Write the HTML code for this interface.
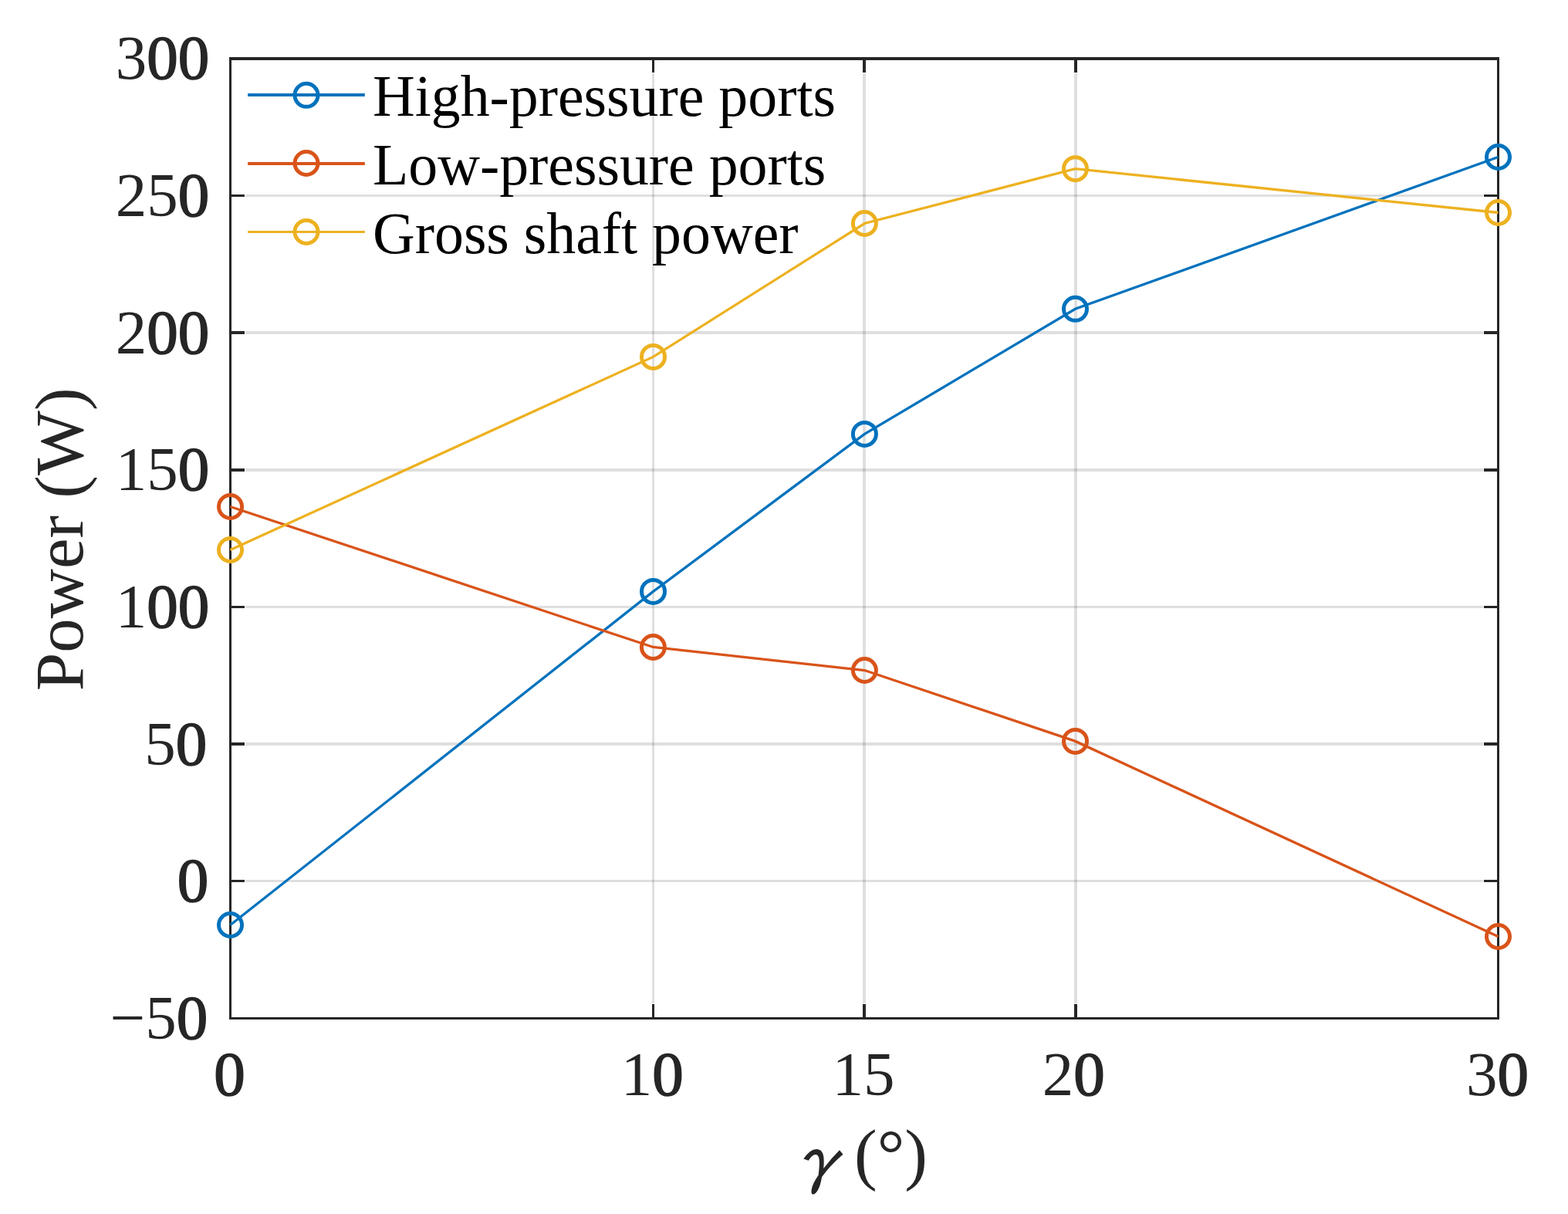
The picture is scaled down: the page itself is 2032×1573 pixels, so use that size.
<!DOCTYPE html><html><head><meta charset="utf-8"><style>html,body{margin:0;padding:0;background:#fff;overflow:hidden;}svg{display:block;}text{font-family:"Liberation Serif","Times New Roman",serif;}.z{stroke:#262626;stroke-width:1.6px;}</style></head><body>
<svg width="2032" height="1573" viewBox="0 0 2032 1573">
<rect width="2032" height="1573" fill="#fff"/>
<path d="M846.5 95V1300" stroke="#262626" stroke-opacity="0.15" stroke-width="3" fill="none" shape-rendering="crispEdges"/>
<path d="M1120.0 95V1300" stroke="#262626" stroke-opacity="0.15" stroke-width="4" fill="none" shape-rendering="crispEdges"/>
<path d="M1394.0 95V1300" stroke="#262626" stroke-opacity="0.15" stroke-width="4" fill="none" shape-rendering="crispEdges"/>
<path d="M318 1141.5H1922" stroke="#262626" stroke-opacity="0.15" stroke-width="3" fill="none" shape-rendering="crispEdges"/>
<path d="M318 964.0H1922" stroke="#262626" stroke-opacity="0.15" stroke-width="4" fill="none" shape-rendering="crispEdges"/>
<path d="M318 786.5H1922" stroke="#262626" stroke-opacity="0.15" stroke-width="3" fill="none" shape-rendering="crispEdges"/>
<path d="M318 609.0H1922" stroke="#262626" stroke-opacity="0.15" stroke-width="4" fill="none" shape-rendering="crispEdges"/>
<path d="M318 431.0H1922" stroke="#262626" stroke-opacity="0.15" stroke-width="4" fill="none" shape-rendering="crispEdges"/>
<path d="M318 253.5H1922" stroke="#262626" stroke-opacity="0.15" stroke-width="3" fill="none" shape-rendering="crispEdges"/>
<path d="M846.5 1321V1301M846.5 74V94" stroke="#262626" stroke-width="3" fill="none" shape-rendering="crispEdges"/>
<path d="M1120.0 1321V1301M1120.0 74V94" stroke="#262626" stroke-width="4" fill="none" shape-rendering="crispEdges"/>
<path d="M1394.0 1321V1301M1394.0 74V94" stroke="#262626" stroke-width="4" fill="none" shape-rendering="crispEdges"/>
<path d="M297 1141.5H317M1943 1141.5H1923" stroke="#262626" stroke-width="3" fill="none" shape-rendering="crispEdges"/>
<path d="M297 964.0H317M1943 964.0H1923" stroke="#262626" stroke-width="4" fill="none" shape-rendering="crispEdges"/>
<path d="M297 786.5H317M1943 786.5H1923" stroke="#262626" stroke-width="3" fill="none" shape-rendering="crispEdges"/>
<path d="M297 609.0H317M1943 609.0H1923" stroke="#262626" stroke-width="4" fill="none" shape-rendering="crispEdges"/>
<path d="M297 431.0H317M1943 431.0H1923" stroke="#262626" stroke-width="4" fill="none" shape-rendering="crispEdges"/>
<path d="M297 253.5H317M1943 253.5H1923" stroke="#262626" stroke-width="3" fill="none" shape-rendering="crispEdges"/>
<path d="M298.5 74V1321M1941.5 74V1321M297 1319.5H1943" stroke="#262626" stroke-width="3" fill="none" shape-rendering="crispEdges"/>
<path d="M297 76H1943" stroke="#262626" stroke-width="4" fill="none" shape-rendering="crispEdges"/>
<path d="M298.5 1198.5L846.5 766.4L1120.4 562.4L1393.5 400.3L1941.5 203.5" stroke="#0072BD" stroke-width="3.3" fill="none" stroke-linejoin="miter"/>
<path d="M298.5 656.5L846.4 838.5L1120.4 868.5L1393.5 960.4L1941.5 1213.5" stroke="#D95319" stroke-width="3.3" fill="none" stroke-linejoin="miter"/>
<path d="M298.5 712.5L846.5 462.4L1120.4 289.5L1393.5 218.7L1941.5 275.5" stroke="#EDB120" stroke-width="3.3" fill="none" stroke-linejoin="miter"/>
<circle cx="298.5" cy="1198.5" r="15" stroke="#0072BD" stroke-width="5" fill="none"/>
<circle cx="846.5" cy="766.4" r="15" stroke="#0072BD" stroke-width="5" fill="none"/>
<circle cx="1120.4" cy="562.4" r="15" stroke="#0072BD" stroke-width="5" fill="none"/>
<circle cx="1393.5" cy="400.3" r="15" stroke="#0072BD" stroke-width="5" fill="none"/>
<circle cx="1941.5" cy="203.5" r="15" stroke="#0072BD" stroke-width="5" fill="none"/>
<circle cx="298.5" cy="656.5" r="15" stroke="#D95319" stroke-width="5" fill="none"/>
<circle cx="846.4" cy="838.5" r="15" stroke="#D95319" stroke-width="5" fill="none"/>
<circle cx="1120.4" cy="868.5" r="15" stroke="#D95319" stroke-width="5" fill="none"/>
<circle cx="1393.5" cy="960.4" r="15" stroke="#D95319" stroke-width="5" fill="none"/>
<circle cx="1941.5" cy="1213.5" r="15" stroke="#D95319" stroke-width="5" fill="none"/>
<circle cx="298.5" cy="712.5" r="15" stroke="#EDB120" stroke-width="5" fill="none"/>
<circle cx="846.5" cy="462.4" r="15" stroke="#EDB120" stroke-width="5" fill="none"/>
<circle cx="1120.4" cy="289.5" r="15" stroke="#EDB120" stroke-width="5" fill="none"/>
<circle cx="1393.5" cy="218.7" r="15" stroke="#EDB120" stroke-width="5" fill="none"/>
<circle cx="1941.5" cy="275.5" r="15" stroke="#EDB120" stroke-width="5" fill="none"/>
<text x="269.2" y="1345.8" font-size="81" fill="#262626" text-anchor="end">−5<tspan class="z">0</tspan></text>
<text x="270.2" y="1168.1" font-size="81" fill="#262626" text-anchor="end"><tspan class="z">0</tspan></text>
<text x="268.2" y="990.5" font-size="81" fill="#262626" text-anchor="end">5<tspan class="z">0</tspan></text>
<text x="271.2" y="812.8" font-size="81" fill="#262626" text-anchor="end">1<tspan class="z">00</tspan></text>
<text x="271.2" y="635.2" font-size="81" fill="#262626" text-anchor="end">15<tspan class="z">0</tspan></text>
<text x="271.2" y="457.6" font-size="81" fill="#262626" text-anchor="end">2<tspan class="z">00</tspan></text>
<text x="271.2" y="279.9" font-size="81" fill="#262626" text-anchor="end">25<tspan class="z">0</tspan></text>
<text x="271.2" y="102.3" font-size="81" fill="#262626" text-anchor="end">3<tspan class="z">00</tspan></text>
<text x="297.5" y="1418.8" font-size="81" fill="#262626" text-anchor="middle"><tspan class="z">0</tspan></text>
<text x="845.2" y="1418.8" font-size="81" fill="#262626" text-anchor="middle">1<tspan class="z">0</tspan></text>
<text x="1119.0" y="1418.8" font-size="81" fill="#262626" text-anchor="middle">15</text>
<text x="1391.3" y="1418.8" font-size="81" fill="#262626" text-anchor="middle">2<tspan class="z">0</tspan></text>
<text x="1940.5" y="1418.8" font-size="81" fill="#262626" text-anchor="middle">3<tspan class="z">0</tspan></text>
<text transform="translate(1019 1538.5) skewX(-8) scale(0.92 1)" font-size="92" fill="#262626" style="font-family:IPAGothic,sans-serif">γ</text>
<text x="1107" y="1525" font-size="89" fill="#262626">(°)</text>
<text transform="translate(107.2 698.85) rotate(-90)" font-size="89" fill="#262626" text-anchor="middle">Power (W)</text>
<path d="M321.1 123.0H472.8" stroke="#0072BD" stroke-width="4"/>
<circle cx="397" cy="123.3" r="15" stroke="#0072BD" stroke-width="5" fill="none"/>
<text x="483" y="149.8" font-size="75.8" fill="#000">High-pressure ports</text>
<path d="M321.1 211.9H472.8" stroke="#D95319" stroke-width="4"/>
<circle cx="397" cy="211.5" r="15" stroke="#D95319" stroke-width="5" fill="none"/>
<text x="483" y="238.9" font-size="75.8" fill="#000">Low-pressure ports</text>
<path d="M321.1 300.5H472.8" stroke="#EDB120" stroke-width="3"/>
<circle cx="397" cy="300.4" r="15" stroke="#EDB120" stroke-width="5" fill="none"/>
<text x="483" y="328.2" font-size="75.8" fill="#000">Gross shaft power</text>
</svg></body></html>
